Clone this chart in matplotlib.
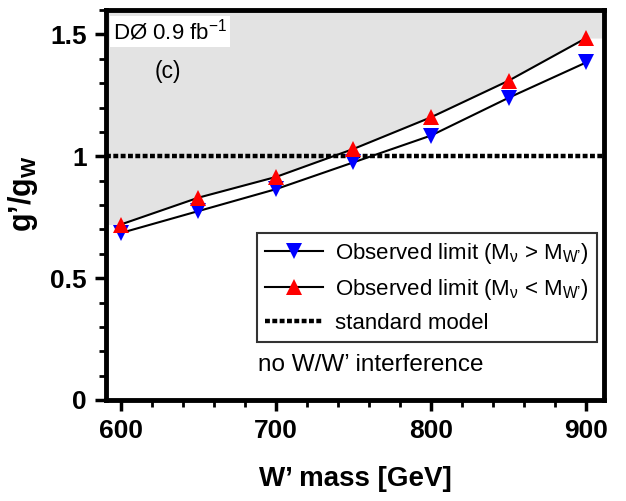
import matplotlib
matplotlib.use("Agg")
import matplotlib.pyplot as plt
from matplotlib.ticker import MultipleLocator, FixedLocator, FixedFormatter

plt.rcParams['font.family'] = ['Liberation Sans', 'DejaVu Sans']
plt.rcParams['mathtext.fontset'] = 'custom'
plt.rcParams['mathtext.rm'] = 'Liberation Sans'
plt.rcParams['mathtext.it'] = 'Liberation Sans:italic'
plt.rcParams['mathtext.bf'] = 'Liberation Sans:bold'
plt.rcParams['mathtext.default'] = 'regular'

# W' mass points (GeV) and observed coupling limits
mass = [600, 650, 700, 750, 800, 850, 900]
limit_heavy_nu = [0.685, 0.775, 0.865, 0.975, 1.085, 1.24, 1.385]  # M_nu > M_W'
limit_light_nu = [0.72, 0.83, 0.915, 1.03, 1.16, 1.31, 1.485]      # M_nu < M_W'
sm_value = 1.0

xticks = [600, 700, 800, 900]
yticks = [0, 0.5, 1, 1.5]
ytick_labels = ['0', '0.5', '1', '1.5']

xlim = (590.5, 911.5)
ylim = (0, 1.6)

fig = plt.figure(figsize=(6.26, 5.01), dpi=100)
ax = fig.add_axes([0.1693, 0.2016, 0.7956, 0.7784])

# excluded region above the weaker limit
fx = [xlim[0]] + mass + [xlim[1]]
fy = [limit_light_nu[0]] + limit_light_nu + [limit_light_nu[-1]]
ax.fill_between(fx, fy, ylim[1], color='#e3e3e3', lw=0, zorder=0)

ax.axhline(sm_value, color='black', lw=3.2, ls=(0, (1.1, 0.55)), zorder=2,
           label='standard model')
ax.plot(mass, limit_heavy_nu, color='black', lw=1.5, marker='v', ms=11,
        mfc='blue', mec='blue', mew=0, zorder=3,
        label='Observed limit (M$_{\\nu}$ > M$_{W\u2019}$)')
ax.plot(mass, limit_light_nu, color='black', lw=1.5, marker='^', ms=11,
        mfc='red', mec='red', mew=0, zorder=3,
        label='Observed limit (M$_{\\nu}$ < M$_{W\u2019}$)')

ax.set_xlim(*xlim)
ax.set_ylim(*ylim)
ax.xaxis.set_major_locator(FixedLocator(xticks))
ax.xaxis.set_minor_locator(MultipleLocator(20))
ax.yaxis.set_major_locator(FixedLocator(yticks))
ax.yaxis.set_major_formatter(FixedFormatter(ytick_labels))
ax.yaxis.set_minor_locator(MultipleLocator(0.1))
ax.tick_params(which='major', direction='out', length=8, width=2.5,
               labelsize=19, pad=6)
ax.tick_params(which='minor', direction='out', length=5, width=2)
for lab in ax.get_xticklabels() + ax.get_yticklabels():
    lab.set_fontweight('bold')
for s in ax.spines.values():
    s.set_linewidth(3.5)

ax.set_xlabel("W\u2019 mass [GeV]", fontsize=20, fontweight='bold')
ax.xaxis.set_label_coords(0.5, -0.17)
ax.set_ylabel("g\u2019/g$_{\\mathbf{W}}$", fontsize=22, fontweight='bold')
ax.yaxis.set_label_coords(-0.133, 0.53)

# legend order: blue, red, standard model
handles, labels = ax.get_legend_handles_labels()
order = [1, 2, 0]
leg = ax.legend([handles[i] for i in order], [labels[i] for i in order],
                loc='upper right', bbox_to_anchor=(0.985, 0.428),
                fontsize=16, frameon=True, fancybox=False,
                edgecolor='black', handlelength=2.6, handletextpad=0.55,
                borderpad=0.35, labelspacing=0.5, borderaxespad=0)
leg.get_frame().set_linewidth(1.5)

ax.text(0.305, 0.09, "no W/W\u2019 interference", transform=ax.transAxes,
        fontsize=17.5, va='center', ha='left')
ax.text(0.014, 0.945, r"DØ 0.9 fb$^{-1}$", transform=ax.transAxes,
        fontsize=16, va='center', ha='left',
        bbox=dict(facecolor='white', edgecolor='none', pad=2))
ax.text(0.098, 0.843, "(c)", transform=ax.transAxes, fontsize=16.5,
        va='center', ha='left')

fig.savefig('out.png', dpi=100)
